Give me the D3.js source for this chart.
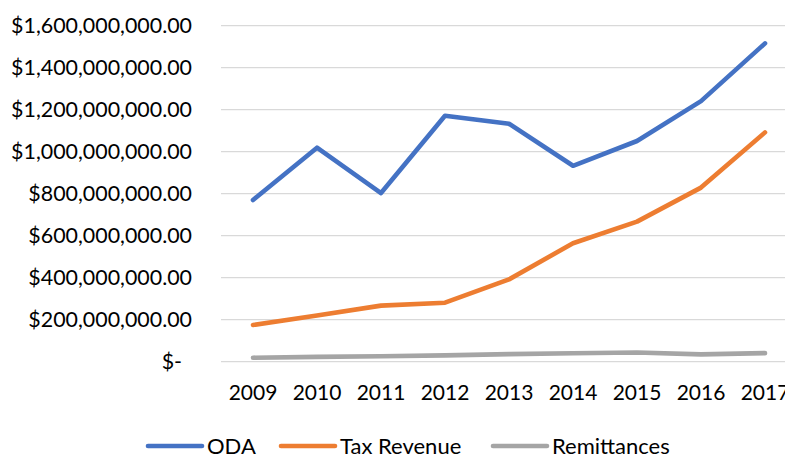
<!DOCTYPE html>
<html>
<head>
<meta charset="utf-8">
<script src="https://cdn.jsdelivr.net/npm/d3@7"></script>
<style>
  body { margin: 0; background: #fff; }
  svg { display: block; font-family: Lato, "Open Sans", sans-serif; }
</style>
</head>
<body>
<svg width="785" height="456"></svg>
<script>
(function() {

// data
var years = ["2009", "2010", "2011", "2012", "2013", "2014", "2015", "2016", "2017"];
var oda = [770e6, 1019e6, 803e6, 1171e6, 1133e6, 933e6, 1051e6, 1241e6, 1516e6];
var taxRevenue = [175e6, 220e6, 267e6, 281e6, 392e6, 564e6, 667e6, 829e6, 1092e6];
var remittances = [19e6, 23e6, 26e6, 30e6, 36e6, 40e6, 44e6, 35e6, 41e6];
var yTicks = [0, 200e6, 400e6, 600e6, 800e6, 1000e6, 1200e6, 1400e6, 1600e6];

var series = [
    {name: "ODA", values: oda, color: "#4472C4"},
    {name: "Tax Revenue", values: taxRevenue, color: "#ED7D31"},
    {name: "Remittances", values: remittances, color: "#A5A5A5"}
];

var svg = d3.select("svg");

// plot area runs a little past the right edge, like the cropped original
var left = 221, right = 797, top = 25.7, bottom = 361.7;

var x = d3.scaleBand().domain(years).range([left, right]);
var y = d3.scaleLinear().domain([0, 1600e6]).range([bottom, top]);

var money = d3.format(",.2f");
function fmt(v) { return v === 0 ? "$-" : "$" + money(v); }

// gridlines
svg.append("g")
    .selectAll("line")
    .data(yTicks)
    .enter()
    .append("line")
    .attr("x1", left)
    .attr("x2", right)
    .attr("y1", function(d) { return y(d); })
    .attr("y2", function(d) { return y(d); })
    .attr("stroke", "#d9d9d9")
    .attr("stroke-width", 1.2);

// y labels
svg.append("g")
    .selectAll("text")
    .data(yTicks)
    .enter()
    .append("text")
    .attr("x", function(d) { return d === 0 ? 182 : 192; })
    .attr("y", function(d) { return y(d); })
    .attr("dy", "0.36em")
    .attr("text-anchor", "end")
    .style("font-size", "21.4px")
    .style("fill", "#000")
    .text(fmt);

// x labels
svg.append("g")
    .selectAll("text")
    .data(years)
    .enter()
    .append("text")
    .attr("x", function(d) { return x(d) + x.bandwidth() / 2; })
    .attr("y", 400)
    .attr("text-anchor", "middle")
    .style("font-size", "21px")
    .style("fill", "#000")
    .text(function(d) { return d; });

var line = d3.line()
    .x(function(d, i) { return x(years[i]) + x.bandwidth() / 2; })
    .y(function(d) { return y(d); });

// draw remittances first so the others sit on top
svg.append("g")
    .selectAll("path")
    .data(series.slice().reverse())
    .enter()
    .append("path")
    .attr("d", function(d) { return line(d.values); })
    .attr("fill", "none")
    .attr("stroke", function(d) { return d.color; })
    .attr("stroke-width", 4.6)
    .attr("stroke-linecap", "round")
    .attr("stroke-linejoin", "round");

// legend
var legendX = [148, 281, 493];
var leg = svg.append("g")
    .selectAll("g")
    .data(series)
    .enter()
    .append("g")
    .attr("transform", function(d, i) { return "translate(" + legendX[i] + ",446)"; });

leg.append("line")
    .attr("x1", 0)
    .attr("x2", 54)
    .attr("stroke", function(d) { return d.color; })
    .attr("stroke-width", 4.6)
    .attr("stroke-linecap", "round");

leg.append("text")
    .attr("x", 59)
    .attr("dy", "0.36em")
    .style("font-size", "22px")
    .style("fill", "#000")
    .text(function(d) { return d.name; });

})();
</script>
</body>
</html>
